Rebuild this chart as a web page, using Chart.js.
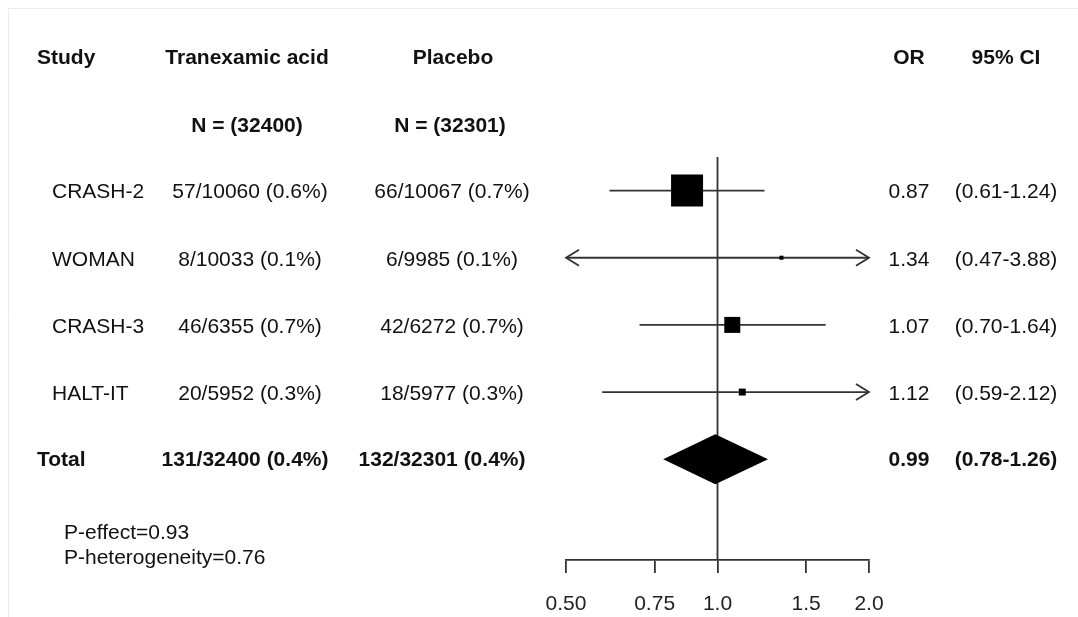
<!DOCTYPE html>
<html>
<head>
<meta charset="utf-8">
<script src="https://cdn.jsdelivr.net/npm/chart.js@4.4.1/dist/chart.umd.min.js"></script>
<style>
  body { margin: 0; background: #fff; }
  canvas { display: block; }
</style>
</head>
<body>
<canvas id="forest" width="1078" height="617"></canvas>
<script>
// data
const studies = ['CRASH-2', 'WOMAN', 'CRASH-3', 'HALT-IT'];
const txaEvents = [57, 8, 46, 20];
const txaTotal = [10060, 10033, 6355, 5952];
const plaEvents = [66, 6, 42, 18];
const plaTotal = [10067, 9985, 6272, 5977];
const orVals = [0.87, 1.34, 1.07, 1.12];
const ciLow = [0.61, 0.47, 0.70, 0.59];
const ciHigh = [1.24, 3.88, 1.64, 2.12];
const weights = [76, 1.2, 19, 3.6]; // approx, from box sizes
const pooled = [0.99, 0.78, 1.26]; // OR, low, high
const pEffect = 0.93;
const pHet = 0.76;
const tickVals = [0.5, 0.75, 1, 1.5, 2];
const tickLabels = ['0.50', '0.75', '1.0', '1.5', '2.0'];

const xMin = 0.5, xMax = 2;
const FONT = '"Liberation Sans", Arial, sans-serif';
const LINE = '#333';

const sumT = txaTotal.reduce((a, b) => a + b, 0);
const sumP = plaTotal.reduce((a, b) => a + b, 0);
const evT = txaEvents.reduce((a, b) => a + b, 0);
const evP = plaEvents.reduce((a, b) => a + b, 0);
const cell = (e, n) => e + '/' + n + ' (' + (100 * e / n).toFixed(1) + '%)';

const clamp = v => Math.min(xMax, Math.max(xMin, v));

const whiskers = studies.map((s, i) => ({
  data: [{x: clamp(ciLow[i]), y: i}, {x: clamp(ciHigh[i]), y: i}],
  showLine: true, borderColor: LINE, borderWidth: 1.8, pointRadius: 0, clip: false
}));

const tablePlugin = {
  id: 'table',
  beforeDraw(chart) {
    const c = chart.ctx;
    c.save();
    c.strokeStyle = '#ececec';
    c.lineWidth = 1;
    c.beginPath();
    c.moveTo(8.5, 617); c.lineTo(8.5, 8.5); c.lineTo(1078, 8.5);
    c.stroke();
    c.restore();
  },
  afterDatasetsDraw(chart) {
    const c = chart.ctx, x = chart.scales.x, y = chart.scales.y;
    c.save();
    // arrows for CIs that run off the axis
    c.strokeStyle = LINE; c.lineWidth = 1.8;
    studies.forEach((s, i) => {
      const py = y.getPixelForValue(i);
      if (ciLow[i] < xMin) {
        const px = x.getPixelForValue(xMin);
        c.beginPath(); c.moveTo(px + 13, py - 8); c.lineTo(px, py); c.lineTo(px + 13, py + 8); c.stroke();
      }
      if (ciHigh[i] > xMax) {
        const px = x.getPixelForValue(xMax);
        c.beginPath(); c.moveTo(px - 13, py - 8); c.lineTo(px, py); c.lineTo(px - 13, py + 8); c.stroke();
      }
    });
    // pooled diamond
    const dy = y.getPixelForValue(studies.length);
    c.fillStyle = '#000';
    c.beginPath();
    c.moveTo(x.getPixelForValue(pooled[1]), dy);
    c.lineTo(x.getPixelForValue(pooled[0]), dy - 25);
    c.lineTo(x.getPixelForValue(pooled[2]), dy);
    c.lineTo(x.getPixelForValue(pooled[0]), dy + 25);
    c.closePath(); c.fill();

    // text columns
    const bold = 'bold 21px ' + FONT, reg = '21px ' + FONT;
    c.fillStyle = '#111';
    c.textBaseline = 'middle';
    const put = (t, px, py, align, f) => { c.font = f; c.textAlign = align; c.fillText(t, px, py); };
    const hy = y.getPixelForValue(-1.97), ny = y.getPixelForValue(-0.96);
    put('Study', 37, hy, 'left', bold);
    put('Tranexamic acid', 247, hy, 'center', bold);
    put('Placebo', 453, hy, 'center', bold);
    put('OR', 909, hy, 'center', bold);
    put('95% CI', 1006, hy, 'center', bold);
    put('N = (' + sumT + ')', 247, ny, 'center', bold);
    put('N = (' + sumP + ')', 450, ny, 'center', bold);
    studies.forEach((s, i) => {
      const py = y.getPixelForValue(i) + 2;
      put(s, 52, py, 'left', reg);
      put(cell(txaEvents[i], txaTotal[i]), 250, py, 'center', reg);
      put(cell(plaEvents[i], plaTotal[i]), 452, py, 'center', reg);
      put(orVals[i].toFixed(2), 909, py, 'center', reg);
      put('(' + ciLow[i].toFixed(2) + '-' + ciHigh[i].toFixed(2) + ')', 1006, py, 'center', reg);
    });
    const ty = y.getPixelForValue(studies.length) + 1;
    put('Total', 37, ty, 'left', bold);
    put(cell(evT, sumT), 245, ty, 'center', bold);
    put(cell(evP, sumP), 442, ty, 'center', bold);
    put(pooled[0].toFixed(2), 909, ty, 'center', bold);
    put('(' + pooled[1].toFixed(2) + '-' + pooled[2].toFixed(2) + ')', 1006, ty, 'center', bold);
    put('P-effect=' + pEffect.toFixed(2), 64, 533, 'left', reg);
    put('P-heterogeneity=' + pHet.toFixed(2), 64, 558, 'left', reg);
    c.restore();
  }
};

new Chart(document.getElementById('forest').getContext('2d'), {
  type: 'scatter',
  data: {
    datasets: [
      {
        data: orVals.map((v, i) => ({x: v, y: i})),
        pointStyle: 'rect',
        pointRadius: weights.map(w => 32 * Math.sqrt(w / weights[0]) / Math.SQRT2),
        backgroundColor: '#000', borderWidth: 0, clip: false
      },
      ...whiskers,
      {
        data: [{x: 1, y: -0.5}, {x: 1, y: 5.5}],
        showLine: true, borderColor: LINE, borderWidth: 1.8, pointRadius: 0, clip: false
      }
    ]
  },
  options: {
    responsive: false,
    animation: false,
    devicePixelRatio: 1,
    layout: { padding: { left: 566, right: 209, top: 20, bottom: 0 } },
    plugins: { legend: { display: false }, tooltip: { enabled: false } },
    scales: {
      x: {
        type: 'logarithmic',
        min: xMin, max: xMax,
        afterBuildTicks: s => { s.ticks = tickVals.map(v => ({value: v})); },
        afterFit: s => { s.height = 57; },
        ticks: {
          autoSkip: false, maxRotation: 0, padding: 19,
          color: '#222', font: { family: FONT, size: 21 },
          callback: (v, i) => tickLabels[i]
        },
        grid: { drawOnChartArea: false, drawTicks: true, tickLength: 13, color: LINE, lineWidth: 1.8 },
        border: { display: true, color: LINE, width: 1.8 }
      },
      y: { display: false, min: -2.5, max: 5.5, reverse: true }
    }
  },
  plugins: [tablePlugin]
});
</script>
</body>
</html>
